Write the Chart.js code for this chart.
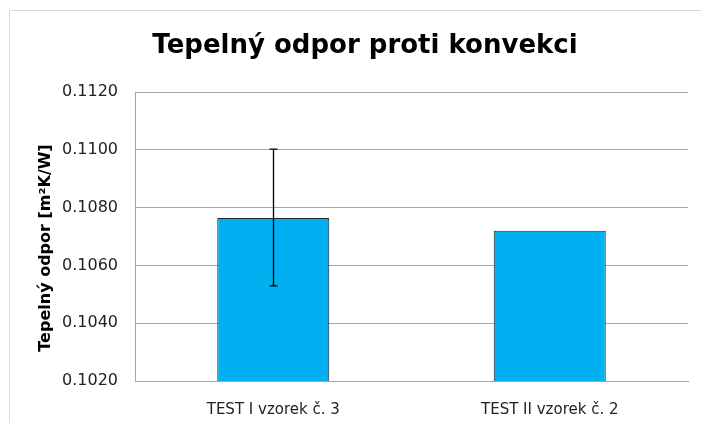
<!DOCTYPE html>
<html>
<head>
<meta charset="utf-8">
<script src="https://cdn.jsdelivr.net/npm/chart.js@4.4.0/dist/chart.umd.min.js"></script>
<style>
  html, body { margin: 0; padding: 0; background: #ffffff; }
  #wrap { position: relative; width: 701px; height: 423px; }
</style>
</head>
<body>
<div id="wrap"><canvas id="c" width="701" height="423"></canvas></div>
<script>
const chartTitle = 'Tepelný odpor proti konvekci';
const yAxisTitle = 'Tepelný odpor [m²K/W]';
const categories = ['TEST I vzorek č. 3', 'TEST II vzorek č. 2'];
const values = [0.10764, 0.10720];
const errorPlus = [0.00238, null];
const errorMinus = [0.00235, null];
const yMin = 0.1020;
const yMax = 0.1120;
const yStep = 0.0020;

const FONT = "'DejaVu Sans', sans-serif";

const decorPlugin = {
  id: 'decor',
  beforeDraw(chart) {
    const ctx = chart.ctx;
    ctx.save();
    ctx.fillStyle = '#ffffff';
    ctx.fillRect(0, 0, chart.width, chart.height);
    ctx.strokeStyle = '#d9d9d9';
    ctx.lineWidth = 1;
    ctx.beginPath();
    ctx.moveTo(9.5, chart.height);
    ctx.lineTo(9.5, 10.5);
    ctx.lineTo(chart.width, 10.5);
    ctx.stroke();
    ctx.restore();
  },
  afterDraw(chart) {
    const ctx = chart.ctx;
    ctx.save();
    ctx.fillStyle = '#000000';
    ctx.font = "bold 26px " + FONT;
    ctx.textAlign = 'center';
    ctx.textBaseline = 'alphabetic';
    ctx.fillText(chartTitle, 365, 53);
    ctx.translate(46, 248);
    ctx.rotate(-Math.PI / 2);
    ctx.font = "bold 16px " + FONT;
    ctx.textBaseline = 'middle';
    ctx.fillText(yAxisTitle, 0, 0);
    ctx.restore();
  }
};

const errorBarPlugin = {
  id: 'errorBars',
  afterDatasetsDraw(chart) {
    const ctx = chart.ctx;
    const meta = chart.getDatasetMeta(0);
    const yScale = chart.scales.y;
    ctx.save();
    ctx.strokeStyle = '#000000';
    ctx.lineWidth = 1.3;
    meta.data.forEach((bar, i) => {
      if (errorPlus[i] == null) return;
      const x = Math.round(bar.x) + 0.5;
      const top = yScale.getPixelForValue(values[i] + errorPlus[i]);
      const bot = yScale.getPixelForValue(values[i] - errorMinus[i]);
      ctx.beginPath();
      ctx.moveTo(x, top);
      ctx.lineTo(x, bot);
      ctx.moveTo(x - 4, top);
      ctx.lineTo(x + 4, top);
      ctx.moveTo(x - 4, bot);
      ctx.lineTo(x + 4, bot);
      ctx.stroke();
    });
    ctx.restore();
  }
};

new Chart(document.getElementById('c'), {
  type: 'bar',
  data: {
    labels: categories,
    datasets: [{
      data: values,
      backgroundColor: '#00b0f0',
      borderColor: '#262626',
      borderWidth: 1,
      borderSkipped: 'bottom',
      barPercentage: 1,
      categoryPercentage: 0.405
    }]
  },
  options: {
    responsive: false,
    animation: false,
    devicePixelRatio: 1,
    layout: { padding: { left: 0, right: 13, top: 92, bottom: 0 } },
    plugins: {
      legend: { display: false },
      title: { display: false },
      tooltip: { enabled: false }
    },
    scales: {
      x: {
        grid: { display: false, drawTicks: false },
        border: { display: true, color: '#a6a6a6', width: 1 },
        ticks: {
          color: '#222222',
          font: { family: FONT, size: 15 },
          padding: 20,
          maxRotation: 0
        },
        afterFit(s) { s.height = 423 - 381; }
      },
      y: {
        min: yMin,
        max: yMax,
        grid: { color: '#a6a6a6', lineWidth: 1, drawTicks: false },
        border: { display: true, color: '#a6a6a6', width: 1 },
        ticks: {
          stepSize: yStep,
          color: '#222222',
          font: { family: FONT, size: 16 },
          padding: 17,
          callback: (v) => Number(v).toFixed(4)
        },
        afterFit(s) { s.width = 135; }
      }
    }
  },
  plugins: [decorPlugin, errorBarPlugin]
});
</script>
</body>
</html>
